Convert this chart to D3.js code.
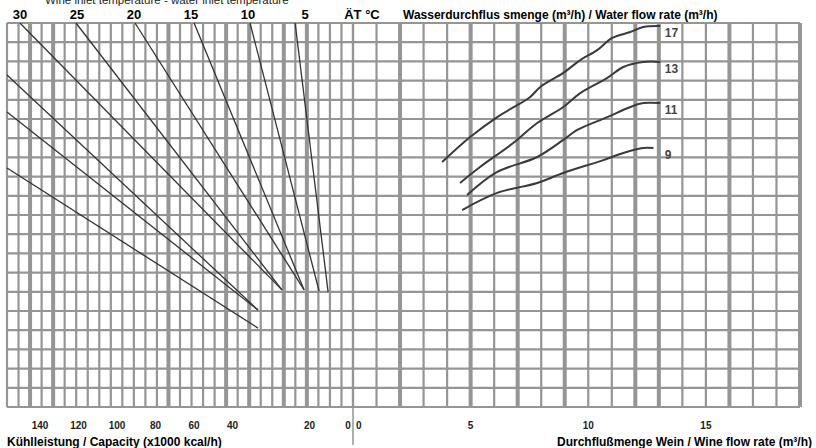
<!DOCTYPE html>
<html>
<head>
<meta charset="utf-8">
<script src="https://cdn.jsdelivr.net/npm/d3@7"></script>
<style>
  body { margin: 0; background: #fff; }
  text { font-family: "Liberation Sans", Arial, sans-serif; }
</style>
</head>
<body>
<div id="chart"></div>
<script>
// DATA //

// left panel: capacity labels (x1000 kcal/h), one empty slot between 40 and 20
let capacityLabels = ["140", "120", "100", "80", "60", "40", "", "20", "0"];
// right panel: wine flow rate axis (m3/h)
let flowTicks = [0, 5, 10, 15];
// delta T labels along the top of the left panel, unit label in the last slot
let deltaTLabels = ["30", "25", "20", "15", "10", "5", "ÄT °C"];

// grid cells (rows are unlabeled)
let capacityGrid = d3.range(0, 151, 5);
let capacityThick = [140, 130, 80, 55, 45, 30, 20];
let flowGrid = d3.range(0, 20, 1);
let flowThick = [2, 5, 7, 9, 12, 13, 16, 19];
let rows = d3.range(0, 21, 1);

// delta T lines: [capacity, row] pairs
let tempLines = [
  [[150, 7.55], [41.2, 15.89]],
  [[150, 4.64], [41.2, 14.95]],
  [[150, 2.71], [41.2, 14.95]],
  [[144.4, 0], [30.8, 13.9]],   // 30
  [[120.1, 0], [30.8, 13.9]],   // 25
  [[94.5, 0], [21.2, 13.9]],    // 20
  [[68.9, 0], [21.2, 13.9]],    // 15
  [[44.65, 0], [14.7, 13.96]],  // 10
  [[25.1, 0], [10.8, 14]]       // 5
];

// water flow rate curves: [wine flow, row] pairs
let waterLabels = ["17", "13", "11", "9"];
let water17 = [[3.79, 7.24], [4.98, 5.94], [6.13, 4.90], [7.53, 3.85], [7.96, 3.33], [8.94, 2.60],
  [9.66, 1.93], [10.38, 1.41], [11.02, 0.78], [11.79, 0.47], [12.34, 0.21], [13.06, 0.16]];
let water13 = [[4.55, 8.33], [5.40, 7.5], [6.81, 6.25], [7.83, 5.21], [8.94, 4.375], [9.66, 3.65],
  [10.81, 2.86], [11.49, 2.29], [12.34, 2.03], [13.06, 2.03]];
let water11 = [[4.85, 8.96], [6.13, 7.76], [7.83, 6.98], [8.94, 6.09], [9.53, 5.57], [10.81, 4.90],
  [11.79, 4.375], [12.34, 4.17], [13.06, 4.17]];
let water9 = [[4.64, 9.74], [6.13, 8.85], [7.83, 8.33], [8.94, 7.81], [10.64, 7.14], [11.49, 6.77],
  [12.34, 6.51], [12.77, 6.51]];
let waterCurves = [water17, water13, water11, water9];

// DIMENSIONS //

let width = 816, height = 448;
let gridColor = "#959595";

let svg = d3.select("#chart")
  .append("svg")
  .attr("width", width)
  .attr("height", height);

// scales
let xCap = d3.scaleLinear().domain([150, 0]).range([7, 353]);
let xFlow = d3.scaleLinear().domain([0, 19]).range([353, 800]);
let yRow = d3.scaleLinear().domain([0, 20]).range([23, 407]);
let xCapLabel = d3.scalePoint().domain(capacityLabels).range([40, 348]);
let xTopLabel = d3.scalePoint().domain(deltaTLabels).range([20, 362]);

// GRID //

let grid = svg.append("g");

grid.selectAll("line.h")
  .data(rows)
  .enter()
  .append("line")
  .attr("x1", 7).attr("x2", 800)
  .attr("y1", d => yRow(d)).attr("y2", d => yRow(d))
  .attr("stroke", gridColor)
  .attr("stroke-width", 2.2);

grid.selectAll("line.vc")
  .data(capacityGrid)
  .enter()
  .append("line")
  .attr("x1", d => xCap(d)).attr("x2", d => xCap(d))
  .attr("y1", yRow(0)).attr("y2", yRow(20))
  .attr("stroke", gridColor)
  .attr("stroke-width", d => capacityThick.includes(d) ? 4 : 2.2);

grid.selectAll("line.vf")
  .data(flowGrid)
  .enter()
  .append("line")
  .attr("x1", d => xFlow(d)).attr("x2", d => xFlow(d))
  .attr("y1", yRow(0)).attr("y2", yRow(20))
  .attr("stroke", gridColor)
  .attr("stroke-width", d => flowThick.includes(d) ? 4 : 2.2);

// divider tick below the plot
svg.append("line")
  .attr("x1", xFlow(0)).attr("x2", xFlow(0))
  .attr("y1", yRow(20)).attr("y2", 445)
  .attr("stroke", gridColor)
  .attr("stroke-width", 1.5);

// LINES //

let line = d3.line()
  .x(d => xCap(d[0]))
  .y(d => yRow(d[1]));

svg.append("g")
  .selectAll("path")
  .data(tempLines)
  .enter()
  .append("path")
  .attr("d", line)
  .attr("fill", "none")
  .attr("stroke", "#333")
  .attr("stroke-width", 1.3);

let curve = d3.line()
  .x(d => xFlow(d[0]))
  .y(d => yRow(d[1]))
  .curve(d3.curveCatmullRom);

svg.append("g")
  .selectAll("path")
  .data(waterCurves)
  .enter()
  .append("path")
  .attr("d", curve)
  .attr("fill", "none")
  .attr("stroke", "#3a3a3a")
  .attr("stroke-width", 2);

svg.append("g")
  .selectAll("text")
  .data(waterCurves)
  .enter()
  .append("text")
  .attr("x", xFlow(13.25))
  .attr("y", d => yRow(d[d.length - 1][1]) + 11)
  .attr("font-size", 12)
  .attr("font-weight", "bold")
  .attr("fill", "#444")
  .text((d, i) => waterLabels[i]);

// TEXT //

// cut-off heading
svg.append("text")
  .attr("x", 45).attr("y", 4)
  .attr("font-size", 11.5)
  .attr("fill", "#222")
  .text("Wine inlet temperature - water inlet temperature");

svg.append("g")
  .selectAll("text")
  .data(deltaTLabels)
  .enter()
  .append("text")
  .attr("x", d => xTopLabel(d))
  .attr("y", 19)
  .attr("text-anchor", "middle")
  .attr("font-size", 13)
  .attr("font-weight", "bold")
  .text(d => d);

svg.append("text")
  .attr("x", 403).attr("y", 19)
  .attr("font-size", 12)
  .attr("font-weight", "bold")
  .text("Wasserdurchflus smenge (m³/h) / Water flow rate (m³/h)");

// x axis labels
svg.append("g")
  .selectAll("text")
  .data(capacityLabels)
  .enter()
  .append("text")
  .attr("x", d => xCapLabel(d))
  .attr("y", 429)
  .attr("text-anchor", "middle")
  .attr("font-size", 10)
  .attr("font-weight", "bold")
  .attr("fill", "#222")
  .text(d => d);

svg.append("g")
  .selectAll("text")
  .data(flowTicks)
  .enter()
  .append("text")
  .attr("x", d => d == 0 ? xFlow(d) + 3 : xFlow(d))
  .attr("y", 429)
  .attr("text-anchor", d => d == 0 ? "start" : "middle")
  .attr("font-size", 10)
  .attr("font-weight", "bold")
  .attr("fill", "#222")
  .text(d => d);

svg.append("text")
  .attr("x", 7).attr("y", 446)
  .attr("font-size", 12)
  .attr("font-weight", "bold")
  .text("Kühlleistung / Capacity (x1000 kcal/h)");

svg.append("text")
  .attr("x", 812).attr("y", 446)
  .attr("text-anchor", "end")
  .attr("font-size", 12)
  .attr("font-weight", "bold")
  .text("Durchflußmenge Wein / Wine flow rate (m³/h)");
</script>
</body>
</html>
